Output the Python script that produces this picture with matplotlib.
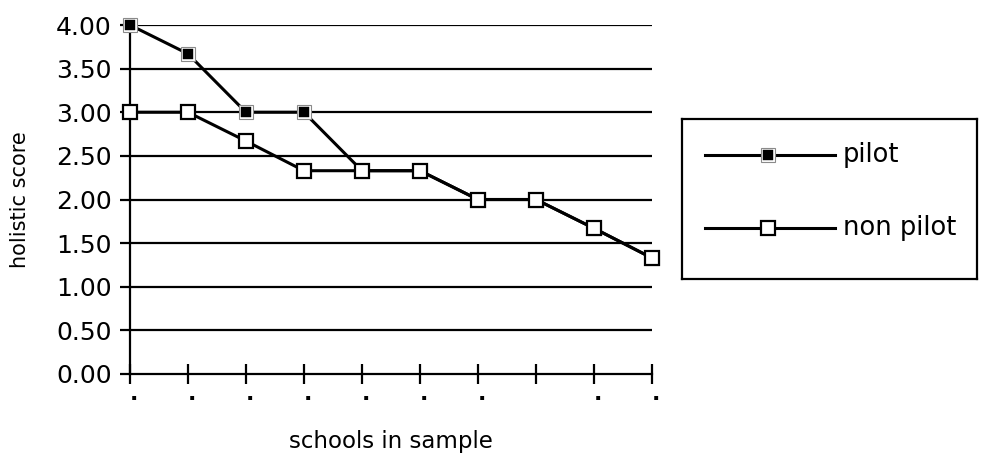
import matplotlib
matplotlib.use("Agg")
import matplotlib.pyplot as plt

schools = list(range(10))
tick_labels = [".", ".", ".", ".", ".", ".", ".", "", ".", "."]
pilot = [4.00, 3.67, 3.00, 3.00, 2.33, 2.33, 2.00, 2.00, 1.67, 1.33]
non_pilot = [3.00, 3.00, 2.67, 2.33, 2.33, 2.33, 2.00, 2.00, 1.67, 1.33]
yticks = [0.0, 0.5, 1.0, 1.5, 2.0, 2.5, 3.0, 3.5, 4.0]
series_names = ["pilot", "non pilot"]

plt.rcParams['font.family'] = ['DejaVu Sans']
fig = plt.figure(figsize=(9.83, 4.53), dpi=100)
ax = fig.add_axes([0.1322, 0.1744, 0.531, 0.7704])

for y in yticks[1:]:
    ax.axhline(y, color='black', lw=1.6, zorder=1)

pilot_outer = dict(ls='none', marker='s', ms=10.5, mfc='white', mec='#8a8a8a', mew=0.8)
pilot_inner = dict(ls='none', marker='s', ms=7.5, mfc='black', mec='black', mew=0.3)
non_style = dict(marker='s', ms=9.5, mfc='white', mec='black', mew=1.6)

ax.plot(schools, pilot, color='black', lw=2.2, zorder=3, clip_on=False)
ax.plot(schools, pilot, zorder=4, clip_on=False, **pilot_outer)
ax.plot(schools, pilot, zorder=5, clip_on=False, **pilot_inner)
ax.plot(schools, non_pilot, color='black', lw=2.2, zorder=6, clip_on=False)
ax.plot(schools, non_pilot, ls='none', zorder=7, clip_on=False, **non_style)

ax.set_xlim(0, 9)
ax.set_ylim(0, 4)
ax.set_yticks(yticks)
ax.set_yticklabels([f"{v:.2f}" for v in yticks], fontsize=18)
ax.set_xticks(schools)
ax.set_xticklabels(tick_labels, fontsize=16, fontweight='bold')
for lbl in ax.get_xticklabels():
    lbl.set_horizontalalignment('left')
ax.tick_params(axis='x', direction='inout', length=14, width=1.6, pad=0)
ax.tick_params(axis='y', direction='out', length=7, width=1.6, pad=6)
for s in ['top', 'right']:
    ax.spines[s].set_visible(False)
for s in ['left', 'bottom']:
    ax.spines[s].set_linewidth(1.6)
ax.set_ylabel("holistic score", fontsize=15)
ax.yaxis.set_label_coords(-0.192, 0.5)
ax.set_xlabel("schools in sample", fontsize=16.5, labelpad=19)
ax.patch.set_alpha(0)

# legend box drawn as its own axes
lax = fig.add_axes([0.6938, 0.3841, 0.3001, 0.3532])
lax.set_xlim(0, 1)
lax.set_ylim(0, 1)
lax.set_xticks([])
lax.set_yticks([])
for s in lax.spines.values():
    s.set_linewidth(1.6)
rows = [0.775, 0.319]
lx0, lx1, lmk, ltx = 0.078, 0.519, 0.292, 0.546
lax.plot([lx0, lx1], [rows[0]] * 2, color='black', lw=2.2)
lax.plot([lmk], [rows[0]], **pilot_outer)
lax.plot([lmk], [rows[0]], **pilot_inner)
lax.plot([lx0, lx1], [rows[1]] * 2, color='black', lw=2.2)
lax.plot([lmk], [rows[1]], ls='none', **non_style)
for r, name in zip(rows, series_names):
    lax.text(ltx, r, name, fontsize=18.5, va='center', ha='left')

fig.savefig("out.png", dpi=100)
